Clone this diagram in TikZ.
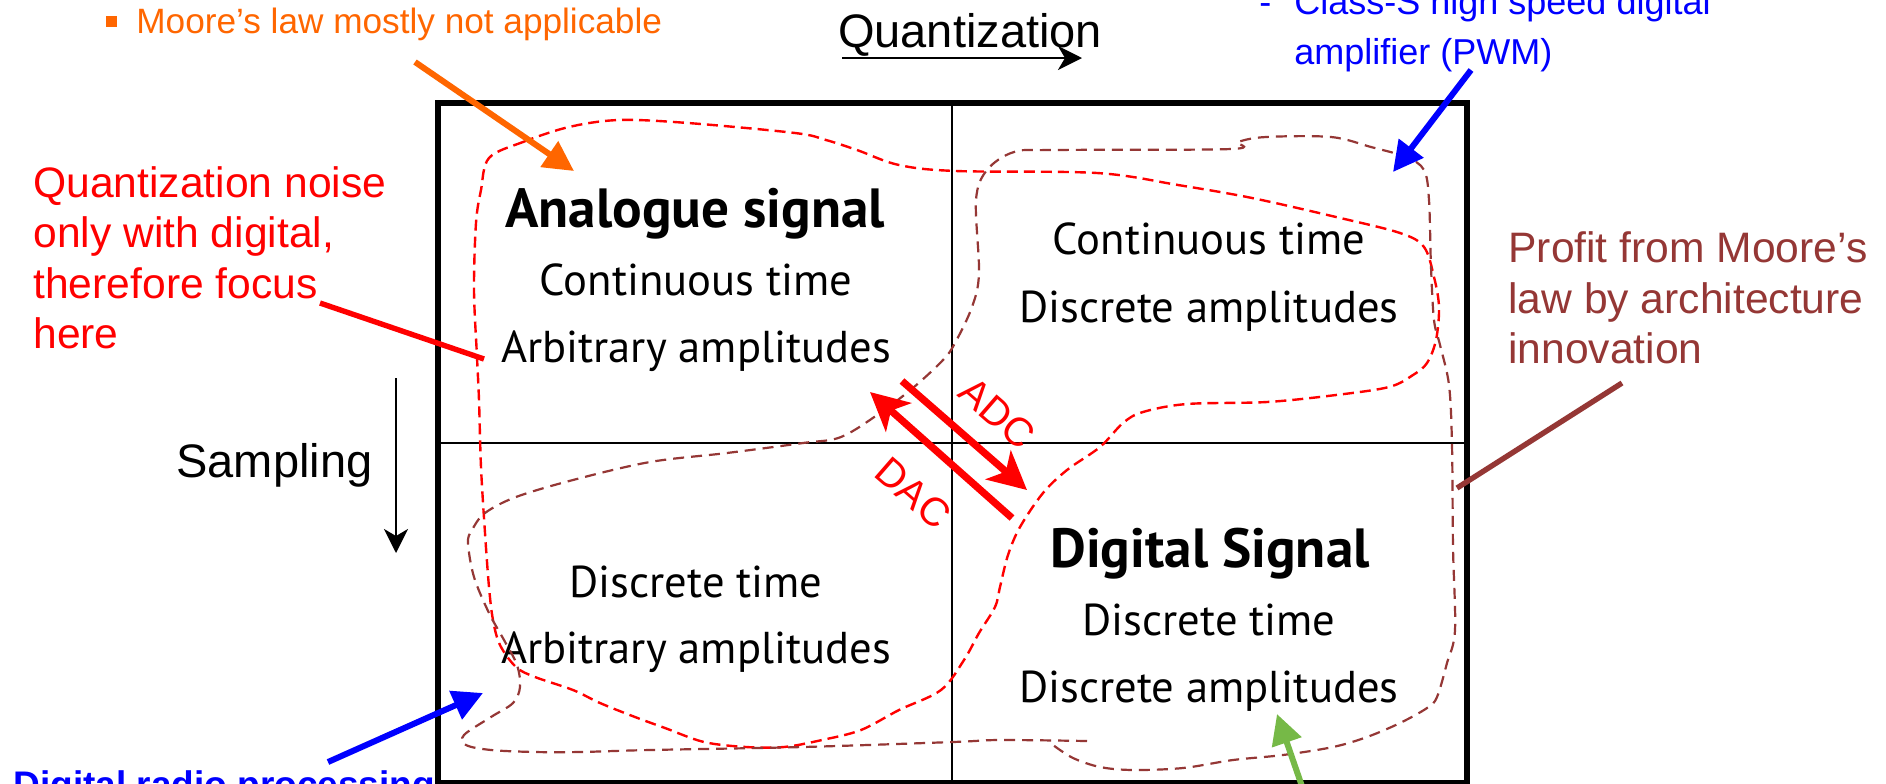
\documentclass[tikz,border=0pt]{standalone}
\usepackage{fontspec}
\usetikzlibrary{arrows.meta}
\newfontfamily\hel{Liberation Sans}
\newfontfamily\pts{PT Sans}
\definecolor{myorange}{RGB}{255,102,0}
\definecolor{mybrown}{RGB}{149,55,53}
\definecolor{mygreen}{RGB}{118,185,71}
\definecolor{myblue}{RGB}{0,0,255}
\definecolor{myred}{RGB}{255,0,0}
\begin{document}
\begin{tikzpicture}[x=0.5pt,y=-0.5pt,
  quad/.style={font=\pts\fontsize{22.3}{26}\selectfont, anchor=base, inner sep=0pt},
  quadbold/.style={font=\pts\bfseries\fontsize{27.6}{32}\selectfont, anchor=base, inner sep=0pt},
  ann/.style={font=\hel\fontsize{21.3}{25}\selectfont, anchor=base west, inner sep=0pt},
  small/.style={font=\hel\fontsize{18}{22}\selectfont, anchor=base west, inner sep=0pt},
  axis/.style={font=\hel\fontsize{23.5}{28}\selectfont, inner sep=0pt},
  blackarrow/.style={line width=1.4pt, -{Stealth[length=12pt,width=12pt,inset=3.5pt]}},
  convarrow/.style={line width=3.6pt, myred, -{Stealth[length=19pt,width=19pt,inset=5pt]}},
  callout/.style={line width=3pt, -{Triangle[length=15pt,width=15pt]}},
  reddash/.style={myred, line width=1.2pt, dash pattern=on 5.5pt off 3pt},
  browndash/.style={mybrown, line width=1.1pt, dash pattern=on 5.5pt off 3.5pt}
]
\clip (0,0) rectangle (1886,783);
\fill[white] (0,0) rectangle (1886,783);

% grid
\draw[line width=3pt] (438,103) rectangle (1467,783);
\draw[line width=1.35pt] (952,103) -- (952,783);
\draw[line width=1.35pt] (438,443) -- (1467,443);

% quadrant texts
\node[quadbold] (a1) at (695,227) {Analogue signal};
\node[quad] (a2) at (696,295) {Continuous time};
\node[quad] (a3) at (696,362) {Arbitrary amplitudes};
\node[quad] (b1) at (1209,254) {Continuous time};
\node[quad] (b2) at (1209,322) {Discrete amplitudes};
\node[quad] (c1) at (696,597) {Discrete time};
\node[quad] (c2) at (696,663) {Arbitrary amplitudes};
\node[quadbold] (d1) at (1210,567) {Digital Signal};
\node[quad] (d2) at (1209,635) {Discrete time};
\node[quad] (d3) at (1209,702) {Discrete amplitudes};

% dashed regions
\draw[reddash] plot[smooth cycle, tension=0.55] coordinates {
 (489,158) (523,142) (569,127) (619,120) (688,123) (795,133) (826,140) (857,150)
 (899,165) (956,171) (1097,173) (1178,185) (1252,198) (1336,217) (1400,233)
 (1424,247) (1434,277) (1439,307) (1436,340) (1427,363) (1413,375) (1389,387)
 (1336,395) (1267,402) (1187,404) (1143,412) (1123,423) (1100,447) (1067,470)
 (1043,493) (1020,527) (1008,555) (1000,587) (995,607) (979,633) (964,660)
 (941,690) (899,710) (861,730) (822,740) (784,747) (746,747) (704,742) (665,728)
 (635,717) (600,703) (573,690) (535,677) (516,667) (500,645) (493,620) (489,587)
 (485,533) (481,467) (479,400) (477,357) (474,290) (476,223) (481,190)};
\draw[browndash] plot[smooth, tension=0.55] coordinates {
 (1087,741) (1000,740) (953,742) (803,747) (650,750) (580,752) (535,752) (491,750)
 (466,745) (464,735) (491,717) (513,703) (520,687) (517,665) (504,640) (489,613)
 (474,577) (468,543) (472,530) (485,513) (516,497) (573,480) (650,462) (727,453)
 (803,443) (841,437) (880,413) (914,387) (943,360) (955,343) (972,307) (979,273)
 (976,200) (987,170) (1014,152) (1055,150) (1231,149) (1238,142) (1266,137)
 (1331,137) (1371,147) (1406,157) (1424,170) (1429,200) (1431,267) (1434,320)
 (1440,345) (1449,385) (1452,445) (1453,547) (1455,630) (1447,663) (1437,697)
 (1427,708) (1400,723) (1367,737) (1333,747) (1283,755) (1233,760) (1183,768)
 (1133,770) (1100,767) (1073,758) (1053,745)};

% ADC / DAC
\coordinate (adcS) at (902,381);
\coordinate (adcE) at (1027,490);
\coordinate (dacS) at (1012,518);
\coordinate (dacE) at (870,392);
\draw[convarrow] (adcS) -- (adcE);
\draw[convarrow] (dacS) -- (dacE);
\node[rotate=-41, font=\hel\fontsize{20}{24}\selectfont, text=myred, inner sep=0pt] (adc) at (997,413) {ADC};
\node[rotate=-41, font=\hel\fontsize{20}{24}\selectfont, text=myred, inner sep=0pt] (dac) at (913,493) {DAC};

% axes
\node[axis, anchor=base] (quant) at (970,47) {Quantization};
\coordinate (qS) at (842,58);
\coordinate (qE) at (1082,58);
\draw[blackarrow] (qS) -- (qE);
\node[axis, anchor=base west] (samp) at (176,477) {Sampling};
\coordinate (sS) at (396,378);
\coordinate (sE) at (396,553);
\draw[blackarrow] (sS) -- (sE);

% left red annotation
\node[ann, text=myred] (q1) at (33,197) {Quantization noise};
\node[ann, text=myred] (q2) at (33,247) {only with digital,};
\node[ann, text=myred] (q3) at (33,298) {therefore focus};
\node[ann, text=myred] (q4) at (33,348) {here};
\coordinate (qlS) at (320,303);
\coordinate (qlE) at (484,359);
\draw[myred, line width=2.7pt] (qlS) -- (qlE);

% right brown annotation
\node[ann, text=mybrown] (p1) at (1508,262) {Profit from Moore’s};
\node[ann, text=mybrown] (p2) at (1508,313) {law by architecture};
\node[ann, text=mybrown] (p3) at (1508,363) {innovation};
\coordinate (plS) at (1622,383);
\coordinate (plE) at (1457,488);
\draw[mybrown, line width=2.7pt] (plS) -- (plE);

% orange top-left annotation
\fill[myorange] (106,16) rectangle (117,27);
\node[font=\hel\fontsize{17.6}{22}\selectfont, anchor=base west, inner sep=0pt, text=myorange] (moore) at (136,33) {Moore’s law mostly not applicable};
\coordinate (oS) at (415,62);
\coordinate (oE) at (574,171);
\draw[callout, myorange] (oS) -- (oE);

% blue top-right annotation
\node[small, text=myblue] (cdash) at (1259,14) {-};
\node[small, text=myblue] (cl1) at (1294,14) {Class-S high speed digital};
\node[small, text=myblue] (cl2) at (1294,64) {amplifier (PWM)};
\coordinate (bS) at (1471,70);
\coordinate (bE) at (1393,172);
\draw[callout, myblue] (bS) -- (bE);

% blue bottom-left annotation
\node[font=\hel\bfseries\fontsize{18.5}{22}\selectfont, anchor=base west, inner sep=0pt, text=myblue] (drp) at (13,797) {Digital radio processing};
\coordinate (dS) at (328,762);
\coordinate (dE) at (483,693);
\draw[callout, myblue] (dS) -- (dE);

% green arrow
\coordinate (gS) at (1305,795);
\coordinate (gE) at (1277,714);
\draw[callout, mygreen] (gS) -- (gE);
\end{tikzpicture}
\end{document}
